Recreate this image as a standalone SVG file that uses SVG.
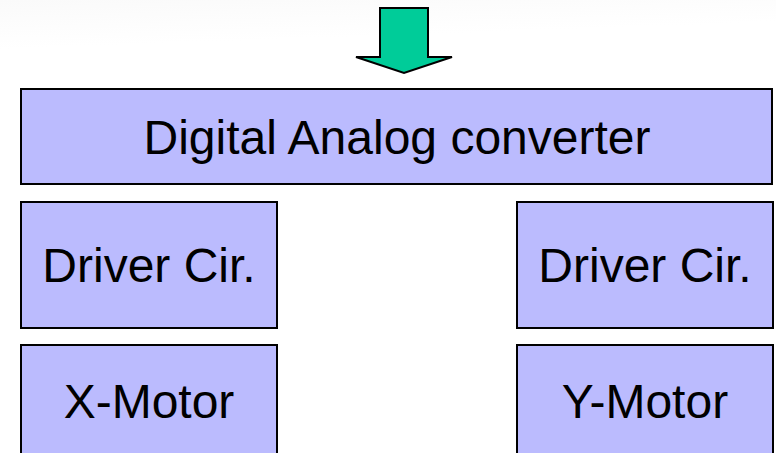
<svg xmlns="http://www.w3.org/2000/svg" width="776" height="453" viewBox="0 0 776 453">
  <defs>
    <linearGradient id="bg" x1="0" y1="0" x2="0.3" y2="1">
      <stop offset="0" stop-color="#fafafa"/>
      <stop offset="0.5" stop-color="#ffffff"/>
    </linearGradient>
    <style>
      .box { fill: #bbbbfe; stroke: #000000; stroke-width: 2; }
      .lbl { font-family: "Liberation Sans", Arial, sans-serif; font-size: 48px; fill: #000000; text-anchor: middle; }
      .arrow { fill: #00cc99; stroke: #000000; stroke-width: 2; stroke-linejoin: miter; }
    </style>
  </defs>
  <rect x="0" y="0" width="776" height="453" fill="#ffffff"/>
  <rect x="0" y="0" width="776" height="90" fill="url(#bg)"/>

  <g id="connectors">
    <polygon class="arrow" points="380,8 428,8 428,57 452,57 404,73 356,57 380,57"/>
  </g>

  <g id="dac">
    <rect class="box" x="21" y="89" width="751" height="95"/>
    <text class="lbl" x="397" y="154">Digital Analog converter</text>
  </g>
  <g id="driver-x">
    <rect class="box" x="21" y="202" width="256" height="126"/>
    <text class="lbl" x="149" y="282">Driver Cir.</text>
  </g>
  <g id="driver-y">
    <rect class="box" x="517" y="202" width="256" height="126"/>
    <text class="lbl" x="645" y="282">Driver Cir.</text>
  </g>
  <g id="x-motor">
    <rect class="box" x="21" y="345" width="256" height="120"/>
    <text class="lbl" x="149" y="418">X-Motor</text>
  </g>
  <g id="y-motor">
    <rect class="box" x="517" y="345" width="256" height="120"/>
    <text class="lbl" x="645" y="418">Y-Motor</text>
  </g>
</svg>
